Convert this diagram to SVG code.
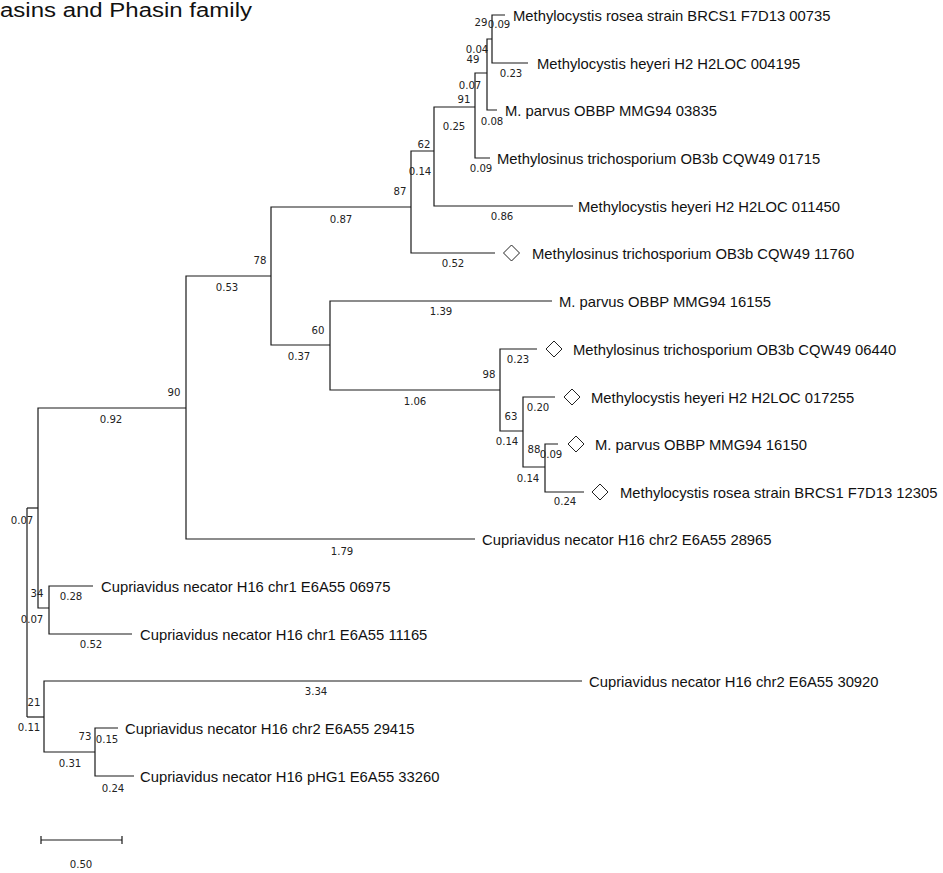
<svg xmlns="http://www.w3.org/2000/svg" width="943" height="873" viewBox="0 0 943 873">
<style>
.br{fill:none;stroke:#1a1a1a;stroke-width:1.2}
.lf{font-family:"Liberation Sans",Arial,sans-serif;font-size:14.8px;fill:#111}
.n{font-family:"DejaVu Sans Condensed","DejaVu Sans",Verdana,sans-serif;font-stretch:condensed;font-size:11.3px;fill:#222;text-anchor:middle}
.dm{fill:#fff;stroke:#222;stroke-width:1}
.ttl{font-family:"Liberation Sans",Arial,sans-serif;font-size:20px;fill:#111}
</style>
<defs>
<polygon id="dia" class="dm" points="0,-8 8,0 0,8 -8,0"/>
</defs>
<rect width="943" height="873" fill="#fff"/>
<text class="ttl" x="0" y="17" textLength="252" lengthAdjust="spacingAndGlyphs">asins and Phasin family</text>

<g id="connectors">
<path class="br" d="M27,508 V717"/>
<path class="br" d="M27,508 H38"/>
<path class="br" d="M27,717 H44"/>
<path class="br" d="M38,508 V408 H186"/>
<path class="br" d="M38,508 V608 H49"/>
<path class="br" d="M186,408 V276 H271"/>
<path class="br" d="M186,408 V539 H475"/>
<path class="br" d="M271,276 V207 H411"/>
<path class="br" d="M271,276 V345 H330"/>
<path class="br" d="M411,207 V151 H434"/>
<path class="br" d="M411,207 V253 H495"/>
<path class="br" d="M434,151 V107 H475"/>
<path class="br" d="M434,151 V206 H573"/>
<path class="br" d="M475,107 V73 H487"/>
<path class="br" d="M475,107 V158 H490"/>
<path class="br" d="M487,73 V39 H492"/>
<path class="br" d="M487,73 V110 H497"/>
<path class="br" d="M492,39 V15 H505"/>
<path class="br" d="M492,39 V63 H528"/>
<path class="br" d="M330,345 V301 H552"/>
<path class="br" d="M330,345 V390 H500"/>
<path class="br" d="M500,390 V349 H537"/>
<path class="br" d="M500,390 V431 H523"/>
<path class="br" d="M523,431 V397 H555"/>
<path class="br" d="M523,431 V467 H545"/>
<path class="br" d="M545,467 V444 H558"/>
<path class="br" d="M545,467 V492 H584"/>
<path class="br" d="M49,608 V586 H93"/>
<path class="br" d="M49,608 V634 H132"/>
<path class="br" d="M44,717 V681 H582"/>
<path class="br" d="M44,717 V752 H95"/>
<path class="br" d="M95,752 V728 H118"/>
<path class="br" d="M95,752 V776 H134"/>
</g>

<g id="node-root"><text class="n" x="22" y="524">0.07</text><text class="n" x="29" y="731">0.11</text></g>
<g id="node-90"><text class="n" x="111" y="423">0.92</text><text class="n" x="174" y="396">90</text></g>
<g id="node-78"><text class="n" x="227" y="291">0.53</text><text class="n" x="260" y="264">78</text></g>
<g id="node-87"><text class="n" x="341" y="223">0.87</text><text class="n" x="400" y="195">87</text></g>
<g id="node-62"><text class="n" x="420" y="175">0.14</text><text class="n" x="424" y="148">62</text></g>
<g id="node-91"><text class="n" x="454" y="130">0.25</text><text class="n" x="464" y="103">91</text></g>
<g id="node-49"><text class="n" x="470" y="89">0.07</text><text class="n" x="473" y="63">49</text></g>
<g id="node-29"><text class="n" x="477" y="53">0.04</text><text class="n" x="481" y="26">29</text></g>
<g id="node-60"><text class="n" x="299" y="360">0.37</text><text class="n" x="318" y="334">60</text></g>
<g id="node-98"><text class="n" x="415" y="405">1.06</text><text class="n" x="489" y="378">98</text></g>
<g id="node-63"><text class="n" x="507" y="445">0.14</text><text class="n" x="511" y="420">63</text></g>
<g id="node-88"><text class="n" x="528" y="482">0.14</text><text class="n" x="534" y="453">88</text></g>
<g id="node-34"><text class="n" x="32" y="623">0.07</text><text class="n" x="37" y="597">34</text></g>
<g id="node-21"><text class="n" x="34" y="706">21</text></g>
<g id="node-73"><text class="n" x="70" y="767">0.31</text><text class="n" x="85" y="740">73</text></g>

<g id="leaf-00735"><text class="n" x="499" y="28">0.09</text><text class="lf" x="513" y="20.5">Methylocystis rosea strain BRCS1 F7D13 00735</text></g>
<g id="leaf-004195"><text class="n" x="511" y="77">0.23</text><text class="lf" x="537" y="68.5">Methylocystis heyeri H2 H2LOC 004195</text></g>
<g id="leaf-03835"><text class="n" x="492" y="125">0.08</text><text class="lf" x="505" y="115.5">M. parvus OBBP MMG94 03835</text></g>
<g id="leaf-01715"><text class="n" x="481" y="172">0.09</text><text class="lf" x="497" y="163.5">Methylosinus trichosporium OB3b CQW49 01715</text></g>
<g id="leaf-011450"><text class="n" x="502" y="220">0.86</text><text class="lf" x="578" y="211.5">Methylocystis heyeri H2 H2LOC 011450</text></g>
<g id="leaf-11760"><text class="n" x="453" y="267">0.52</text><use href="#dia" x="511.5" y="253"/><text class="lf" x="532" y="258.5">Methylosinus trichosporium OB3b CQW49 11760</text></g>
<g id="leaf-16155"><text class="n" x="441" y="315">1.39</text><text class="lf" x="559" y="306.5">M. parvus OBBP MMG94 16155</text></g>
<g id="leaf-06440"><text class="n" x="518" y="363">0.23</text><use href="#dia" x="554" y="349"/><text class="lf" x="573" y="354.5">Methylosinus trichosporium OB3b CQW49 06440</text></g>
<g id="leaf-017255"><text class="n" x="538" y="411">0.20</text><use href="#dia" x="572" y="397"/><text class="lf" x="591" y="402.5">Methylocystis heyeri H2 H2LOC 017255</text></g>
<g id="leaf-16150"><text class="n" x="551" y="458">0.09</text><use href="#dia" x="576" y="444"/><text class="lf" x="595" y="449.5">M. parvus OBBP MMG94 16150</text></g>
<g id="leaf-12305"><text class="n" x="565" y="505">0.24</text><use href="#dia" x="600" y="492"/><text class="lf" x="620" y="497.5">Methylocystis rosea strain BRCS1 F7D13 12305</text></g>
<g id="leaf-28965"><text class="n" x="342" y="555">1.79</text><text class="lf" x="482" y="544.5">Cupriavidus necator H16 chr2 E6A55 28965</text></g>
<g id="leaf-06975"><text class="n" x="71" y="600">0.28</text><text class="lf" x="101" y="591.5">Cupriavidus necator H16 chr1 E6A55 06975</text></g>
<g id="leaf-11165"><text class="n" x="91" y="648">0.52</text><text class="lf" x="140" y="639.5">Cupriavidus necator H16 chr1 E6A55 11165</text></g>
<g id="leaf-30920"><text class="n" x="316" y="695">3.34</text><text class="lf" x="589" y="686.5">Cupriavidus necator H16 chr2 E6A55 30920</text></g>
<g id="leaf-29415"><text class="n" x="107" y="743">0.15</text><text class="lf" x="125" y="733.5">Cupriavidus necator H16 chr2 E6A55 29415</text></g>
<g id="leaf-33260"><text class="n" x="113" y="792">0.24</text><text class="lf" x="140" y="781.5">Cupriavidus necator H16 pHG1 E6A55 33260</text></g>

<g id="scale-bar">
<path class="br" d="M41,840 H122 M41,836 V844 M122,836 V844"/>
<text class="n" x="81" y="868">0.50</text>
</g>
</svg>
